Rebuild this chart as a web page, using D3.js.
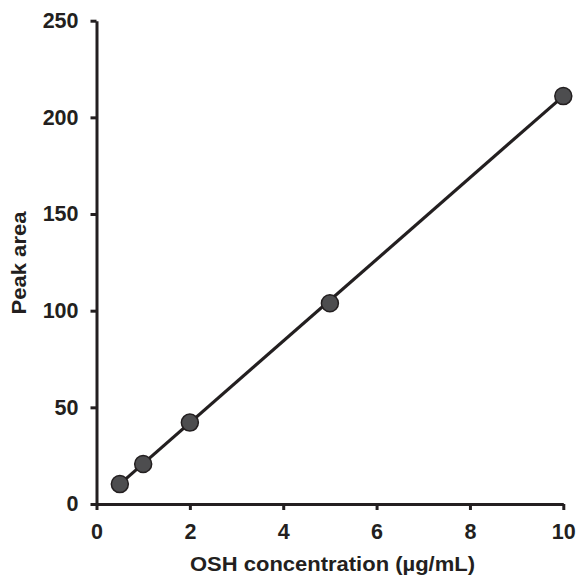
<!DOCTYPE html>
<html>
<head>
<meta charset="utf-8">
<script src="https://cdn.jsdelivr.net/npm/d3@7"></script>
<style>
  body { margin: 0; background: #fff; }
  text { font-family: "Liberation Sans", Arial, sans-serif; font-weight: bold; fill: #231f20; }
</style>
</head>
<body>
<svg id="chart" width="577" height="578"></svg>
<script>
// Data
const concentration = [0.5, 1, 2, 5, 10];
const peak_area = [10.3, 20.7, 42.1, 103.8, 211];
// regression line end points
const fit_x = [0.5, 10];
const fit_y = [10.3, 211];
const x_ticks = [0, 2, 4, 6, 8, 10];
const y_ticks = [0, 50, 100, 150, 200, 250];

const ink = "#231f20";
const svg = d3.select("#chart");

const x = d3.scaleLinear().domain([0, 10]).range([96.5, 563.3]);
const y = d3.scaleLinear().domain([0, 250]).range([504, 20.7]);

// Axes
const xAxis = svg.append("g")
  .attr("transform", "translate(0," + y(0) + ")")
  .call(d3.axisBottom(x).tickValues(x_ticks).tickSize(6).tickPadding(14).tickSizeOuter(0));

const yAxis = svg.append("g")
  .attr("transform", "translate(" + x(0) + ",0)")
  .call(d3.axisLeft(y).tickValues(y_ticks).tickSize(6).tickPadding(12).tickSizeOuter(0));

[xAxis, yAxis].forEach(function (a) {
  a.select(".domain").attr("stroke", ink).attr("stroke-width", 3);
  a.selectAll(".tick line").attr("stroke", ink).attr("stroke-width", 3);
  a.selectAll(".tick text")
    .style("font-family", "'Liberation Sans', Arial, sans-serif")
    .style("font-weight", "bold")
    .style("font-size", "21.5px")
    .attr("fill", ink);
});

// Regression line
svg.append("path")
  .datum(d3.zip(fit_x, fit_y))
  .attr("fill", "none")
  .attr("stroke", ink)
  .attr("stroke-width", 3.2)
  .attr("d", d3.line()
    .x(function (d) { return x(d[0]); })
    .y(function (d) { return y(d[1]); }));

// Points
svg.append("g")
  .selectAll("circle")
  .data(d3.zip(concentration, peak_area))
  .enter()
  .append("circle")
  .attr("cx", function (d) { return x(d[0]); })
  .attr("cy", function (d) { return y(d[1]); })
  .attr("r", 8.5)
  .attr("fill", "#4d4d4f")
  .attr("stroke", ink)
  .attr("stroke-width", 1.5);

// Axis titles
svg.append("text")
  .attr("x", 332.5)
  .attr("y", 570.5)
  .attr("text-anchor", "middle")
  .attr("textLength", 285)
  .attr("lengthAdjust", "spacingAndGlyphs")
  .style("font-size", "20px")
  .text("OSH concentration (µg/mL)");

svg.append("text")
  .attr("transform", "translate(26," + 263 + ") rotate(-90)")
  .attr("text-anchor", "middle")
  .attr("textLength", 103)
  .attr("lengthAdjust", "spacingAndGlyphs")
  .style("font-size", "20px")
  .text("Peak area");
</script>
</body>
</html>
